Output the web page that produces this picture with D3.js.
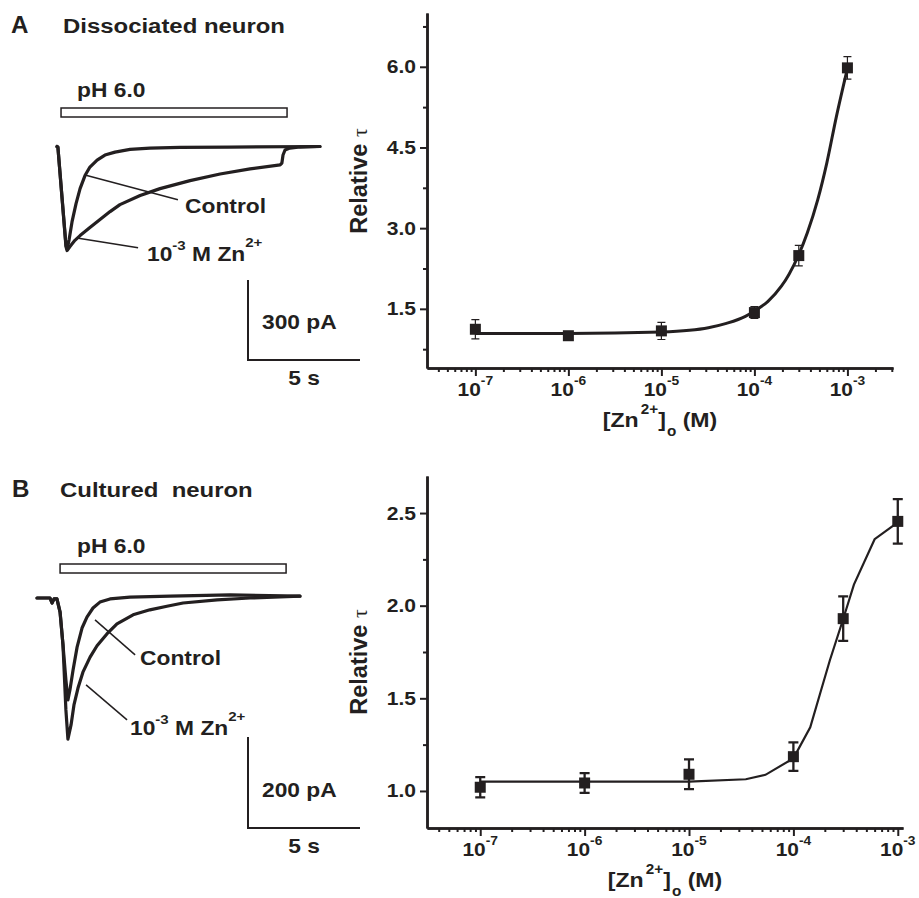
<!DOCTYPE html>
<html>
<head>
<meta charset="utf-8">
<script src="https://cdn.jsdelivr.net/npm/d3@7"></script>
<style>
  body { margin: 0; background: #fff; }
  text { white-space: pre; }
</style>
</head>
<body>
<svg></svg>
<script>
// Svg size
const width = 919
const height = 898

// ---- data ----

// Panel A, dissociated neuron: current traces [time (s), current (pA)]
const traceAControl = [[0, 0], [0.04, -2], [0.4, -370], [0.45, -384], [0.54, -350], [0.67, -283], [0.85, -214],
    [1.03, -158], [1.25, -109], [1.47, -77], [1.79, -51], [2.14, -32], [2.59, -21], [3.26, -11],
    [4.15, -6], [5.49, -3], [7.72, -2], [11.74, 0]]
const traceAZinc = [[0, 0], [0.04, -2], [0.4, -375], [0.45, -390], [0.58, -375], [0.8, -352], [1.03, -334],
    [1.47, -304], [1.92, -274], [2.37, -244], [2.81, -218], [3.71, -184], [4.6, -158], [5.94, -128],
    [7.28, -103], [8.62, -84], [9.96, -69], [10.04, -62], [10.09, -32], [10.18, -13], [10.4, -6],
    [10.85, -2], [11.74, 0]]
const pHA = [0.18, 10.27]  // application bar, s

// Panel B, cultured neuron
const traceBControl = [[0, 0], [0.58, 0], [0.67, -11], [0.76, -2], [0.89, -2], [1.03, -31], [1.16, -103],
    [1.29, -180], [1.38, -224], [1.47, -202], [1.61, -158], [1.79, -108], [2.01, -66], [2.23, -42],
    [2.5, -22], [2.81, -9], [3.26, -2], [4.15, 2], [5.94, 4], [8.62, 7], [11.74, 4]]
const traceBZinc = [[0, 0], [0.58, 0], [0.67, -11], [0.76, -2], [0.89, -2], [1.03, -31], [1.16, -103],
    [1.29, -246], [1.38, -310], [1.52, -279], [1.65, -235], [1.83, -198], [2.05, -163], [2.37, -130],
    [2.68, -105], [3.12, -79], [3.57, -57], [4.29, -37], [5.04, -26], [5.8, -18], [6.52, -11],
    [8.04, -4], [9.51, 0], [11.74, 4]]
const pHB = [1.03, 11.12]

// Dose response, relative tau vs [Zn2+]o (M)
const conc = [1e-7, 1e-6, 1e-5, 1e-4, 3e-4, 1e-3]
const tauA = [1.12, 1.0, 1.09, 1.43, 2.49, 5.98]
const errA = [0.18, 0.05, 0.16, 0.11, 0.19, 0.21]
const fitAConc = [1e-7, 1e-6, 1e-5, 2e-5, 3.2e-5, 5e-5, 8e-5, 1e-4, 1.4e-4, 1.95e-4, 2.35e-4, 2.95e-4,
    3.7e-4, 4.8e-4, 6e-4, 7.6e-4, 1e-3]
const fitATau = [1.04, 1.04, 1.067, 1.10, 1.15, 1.23, 1.36, 1.46, 1.64, 1.92, 2.14, 2.48, 2.91, 3.53,
    4.21, 5.07, 5.97]

const tauB = [1.02, 1.043, 1.09, 1.185, 1.93, 2.455]
const errB = [0.055, 0.053, 0.08, 0.077, 0.12, 0.12]
const fitBConc = [1e-7, 1e-5, 3.5e-5, 5.4e-5, 1e-4, 1.45e-4, 1.8e-4, 2.24e-4, 3e-4, 3.8e-4, 6e-4, 1e-3]
const fitBTau = [1.05, 1.05, 1.063, 1.087, 1.176, 1.344, 1.525, 1.707, 1.928, 2.114, 2.359, 2.45]

// Tick values
const ticksA = [1.5, 3.0, 4.5, 6.0]
const minorA = [0.75, 2.25, 3.75, 5.25, 6.75]
const ticksB = [1.0, 1.5, 2.0, 2.5]
const minorB = [1.25, 1.75, 2.25]
const decades = [-7, -6, -5, -4, -3]

// ---- drawing ----
const ink = "#231f20"
const font = "'Liberation Sans', Arial, Helvetica, sans-serif"
const SX = 1.14 // figure lettering is a bit wider than Arial

const svg = d3.select("svg")
    .attr("width", width)
    .attr("height", height)

svg.append("rect").attr("width", width).attr("height", height).attr("fill", "#fff")

// text helper, parts = [[string, shiftEm, small, dx], ...] (shift < 0 raises)
const label = (x, y, parts, size, anchor = "start", sx = SX) => {
    const t = svg.append("text")
        .attr("transform", `translate(${x},${y}) scale(${sx},1)`)
        .attr("text-anchor", anchor)
        .attr("font-family", font)
        .attr("font-weight", "bold")
        .attr("font-size", size)
        .attr("fill", ink)
    if (typeof parts === "string") parts = [[parts, 0]]
    let shift = 0
    parts.forEach(([s, em = 0, small, dx = 0]) => {
        const target = em * size
        t.append("tspan")
            .attr("dx", dx)
            .attr("dy", target - shift)
            .attr("font-size", small ? size * 0.66 : size)
            .text(s)
        shift = target
    })
    return t
}

// Panel titles
label(11, 33, "A", 23, "start", 1.05)
label(63, 33, "Dissociated neuron", 21)
label(12, 497, "B", 23, "start", 1.05)
label(60, 497, "Cultured  neuron", 21)

// Current traces
const drawTraces = (cfg) => {
    const t = d3.scaleLinear().domain([0, 5]).range([cfg.x0, cfg.x0 + 112])
    const c = d3.scaleLinear().domain([0, -cfg.barPA]).range([cfg.base, cfg.base + cfg.barPx])
    const line = d3.line().x(d => t(d[0])).y(d => c(d[1]))

    // pH application bar
    svg.append("rect")
        .attr("x", t(cfg.pH[0])).attr("y", cfg.pHy)
        .attr("width", t(cfg.pH[1]) - t(cfg.pH[0])).attr("height", 9)
        .attr("fill", "#fff").attr("stroke", ink).attr("stroke-width", 1.5)
    label(77, cfg.pHy - 11, "pH 6.0", 20)

    ;[cfg.zinc, cfg.control].forEach(d => {
        svg.append("path")
            .attr("d", line(d))
            .attr("fill", "none")
            .attr("stroke", ink)
            .attr("stroke-width", 3.2)
            .attr("stroke-linejoin", "round")
            .attr("stroke-linecap", "round")
    })

    // leader lines [t, I] -> [t, I]
    cfg.leaders.forEach(l => {
        svg.append("line")
            .attr("x1", t(l[0][0])).attr("y1", c(l[0][1]))
            .attr("x2", t(l[1][0])).attr("y2", c(l[1][1]))
            .attr("stroke", ink).attr("stroke-width", 1.5)
    })
    label(cfg.ctrlLabel[0], cfg.ctrlLabel[1], "Control", 20)
    label(cfg.znLabel[0], cfg.znLabel[1], [["10"], ["-3", -0.55, true], [" M Zn", 0], ["2+", -0.72, true]], 20)

    // scale bar
    const [bx, by] = cfg.bar
    const hPx = c(-cfg.barPA) - c(0)
    const wPx = t(5) - t(0)
    svg.append("path")
        .attr("d", `M${bx},${by - hPx}V${by}H${bx + wPx}`)
        .attr("fill", "none").attr("stroke", ink).attr("stroke-width", 2)
    label(bx + 14, by - 31, `${cfg.barPA} pA`, 20)
    label(bx + wPx / 2, by + 25, "5 s", 20, "middle")
}

drawTraces({
    x0: 57, base: 146.5, barPA: 300, barPx: 80,
    pH: pHA, pHy: 108,
    control: traceAControl, zinc: traceAZinc,
    leaders: [[[1.25, -107], [5.4, -200]], [[0.89, -343], [3.62, -380]]],
    ctrlLabel: [185, 213], znLabel: [147, 261],
    bar: [248, 360]
})

drawTraces({
    x0: 37, base: 598, barPA: 200, barPx: 91,
    pH: pHB, pHy: 564,
    control: traceBControl, zinc: traceBZinc,
    leaders: [[[2.59, -48], [4.38, -125]], [[2.19, -191], [4.02, -268]]],
    ctrlLabel: [140, 665], znLabel: [130, 735],
    bar: [248, 828]
})

// Dose response plots
const drawDose = (cfg) => {
    const x = d3.scaleLog().domain(cfg.xDomain).range([cfg.left, cfg.right])
    const y = d3.scaleLinear().domain(cfg.yDomain).range([cfg.bottom, cfg.top])
    const g = svg.append("g")

    // y axis, minor then major ticks
    g.append("g").attr("transform", `translate(${cfg.left},0)`)
        .call(d3.axisLeft(y).tickValues(cfg.minor).tickSize(4).tickSizeOuter(0).tickFormat(""))
    g.append("g").attr("transform", `translate(${cfg.left},0)`)
        .call(d3.axisLeft(y).tickValues(cfg.ticks).tickSize(7).tickSizeOuter(0).tickFormat(""))

    // x axis: decades plus 2..9 minor ticks
    const [lo, hi] = cfg.xDomain
    const minorX = []
    for (let e = -9; e <= -2; e++) {
        for (let k = 2; k <= 9; k++) {
            const v = k * Math.pow(10, e)
            if (v >= lo && v <= hi) minorX.push(v)
        }
    }
    g.append("g").attr("transform", `translate(0,${cfg.bottom})`)
        .call(d3.axisBottom(x).tickValues(minorX).tickSize(4).tickSizeOuter(0).tickFormat(""))
    g.append("g").attr("transform", `translate(0,${cfg.bottom})`)
        .call(d3.axisBottom(x).tickValues(decades.map(e => Math.pow(10, e))).tickSize(8).tickSizeOuter(0).tickFormat(""))

    g.selectAll(".domain").attr("stroke", ink).attr("stroke-width", 2.5)
    g.selectAll(".tick line").attr("stroke", ink).attr("stroke-width", 2)

    // tick labels
    cfg.ticks.forEach(v => label(cfg.left - 11, y(v) + 6.5, v.toFixed(1), 18.5, "end"))
    decades.forEach(e => label(x(Math.pow(10, e)), cfg.bottom + 28, [["10"], [String(e), -0.6, true]], 19, "middle", 1.1))

    // axis titles
    label(cfg.xTitle, cfg.bottom + 59,
        [["[Zn"], ["2+", -0.62, true, 2], ["]", 0], ["o", 0.42, true, 1], [" (M)", 0]], 21, "middle", 1.1)
    const yt = svg.append("text")
        .attr("transform", `translate(${cfg.left - 60},${cfg.yTitle}) rotate(-90)`)
        .attr("text-anchor", "middle")
        .attr("fill", ink)
    yt.append("tspan").attr("font-family", font).attr("font-weight", "bold").attr("font-size", 23.5).text("Relative ")
    yt.append("tspan").attr("font-family", "'Liberation Serif', 'DejaVu Serif', serif").attr("font-size", 22).text("τ")

    // fitted curve
    g.append("path")
        .attr("d", d3.line().x(d => x(d[0])).y(d => y(d[1])).curve(cfg.curve)(d3.zip(cfg.fitX, cfg.fitY)))
        .attr("fill", "none")
        .attr("stroke", ink)
        .attr("stroke-width", cfg.fitWidth)

    // error bars
    const cap = cfg.cap
    conc.forEach((cv, i) => {
        const cx = x(cv)
        const y1 = y(cfg.tau[i] + cfg.err[i])
        const y0 = y(cfg.tau[i] - cfg.err[i])
        g.append("path")
            .attr("d", `M${cx},${y1}V${y0}M${cx - cap},${y1}H${cx + cap}M${cx - cap},${y0}H${cx + cap}`)
            .attr("fill", "none")
            .attr("stroke", ink)
            .attr("stroke-width", cfg.errWidth)
    })

    // square markers
    g.selectAll("rect.pt").data(conc).join("rect")
        .attr("class", "pt")
        .attr("x", d => x(d) - 5.5)
        .attr("y", (d, i) => y(cfg.tau[i]) - 5.5)
        .attr("width", 11)
        .attr("height", 11)
        .attr("fill", ink)
}

drawDose({
    left: 427, right: 893, top: 13, bottom: 368,
    xDomain: [Math.pow(10, -7.52), Math.pow(10, -2.51)], yDomain: [0.4, 7.0],
    ticks: ticksA, minor: minorA,
    tau: tauA, err: errA, fitX: fitAConc, fitY: fitATau,
    curve: d3.curveMonotoneX, fitWidth: 3, errWidth: 1.2, cap: 4,
    xTitle: 660, yTitle: 181
})

drawDose({
    left: 427, right: 903, top: 476, bottom: 828,
    xDomain: [Math.pow(10, -7.51), Math.pow(10, -2.95)], yDomain: [0.8, 2.7],
    ticks: ticksB, minor: minorB,
    tau: tauB, err: errB, fitX: fitBConc, fitY: fitBTau,
    curve: d3.curveLinear, fitWidth: 2.2, errWidth: 2.3, cap: 5,
    xTitle: 665, yTitle: 662
})
</script>
</body>
</html>
